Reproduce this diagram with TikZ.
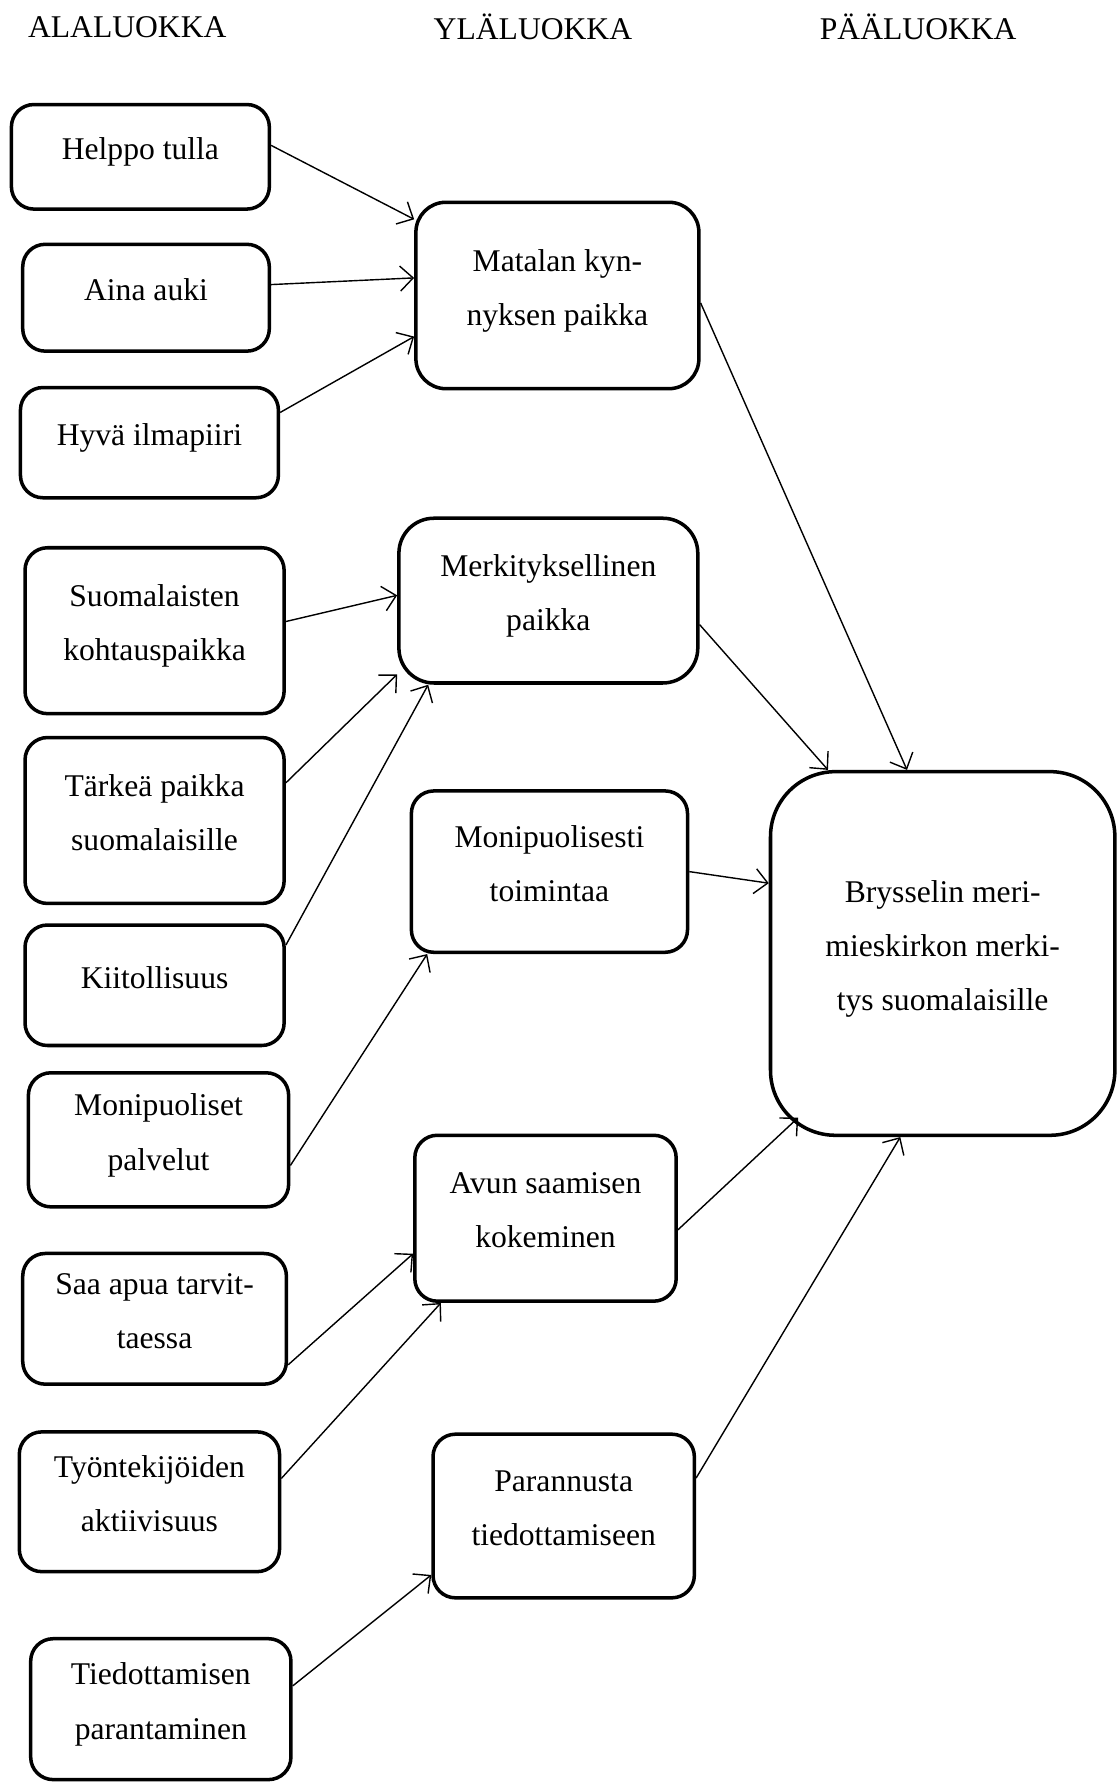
\documentclass[tikz,border=0pt]{standalone}
\usepackage{fontspec}
\setmainfont{Liberation Serif}
\usepackage{tikz}
\usetikzlibrary{arrows.meta}

\begin{document}
\begin{tikzpicture}[
    every node/.style={font=\fontsize{18}{31}\selectfont},
    box/.style={draw, line width=2pt, rounded corners=0.45cm, align=center, inner sep=0pt,
      execute at end node={\rule[-0.32cm]{0pt}{0.32cm}}},
    link/.style={-{Straight Barb[length=2.6mm,width=5mm]}, line width=0.8pt}
  ]
            \useasboundingbox (0,0) rectangle (22.4,-35.66);

            % otsikot
            \node (ala) at (2.547,-0.546) {ALALUOKKA};
            \node (yla) at (10.665,-0.546) {YLÄLUOKKA};
            \node (paa) at (18.375,-0.546) {PÄÄLUOKKA};

            % alaluokat
            \node[box, minimum width=5.162cm, minimum height=2.092cm] (helppo) at (2.809,-3.138) {Helppo tulla};
            \node[box, minimum width=4.935cm, minimum height=2.138cm] (aina) at (2.922,-5.958) {Aina auki};
            \node[box, minimum width=5.162cm, minimum height=2.206cm] (hyva) at (2.990,-8.858) {Hyvä ilmapiiri};
            \node[box, minimum width=5.185cm, minimum height=3.320cm] (suomal) at (3.093,-12.621) {Suomalaisten\\kohtauspaikka};
            \node[box, minimum width=5.185cm, minimum height=3.320cm] (tarkea) at (3.093,-16.419) {Tärkeä paikka\\suomalaisille};
            \node[box, minimum width=5.185cm, minimum height=2.411cm] (kiitol) at (3.093,-19.716) {Kiitollisuus};
            \node[box, minimum width=5.208cm, minimum height=2.683cm] (palvel) at (3.172,-22.809) {Monipuoliset\\palvelut};
            \node[box, minimum width=5.276cm, minimum height=2.615cm] (saa) at (3.093,-26.391) {Saa apua tarvit-\\taessa};
            \node[box, minimum width=5.208cm, minimum height=2.797cm] (tyont) at (2.990,-30.052) {Työntekijöiden\\aktiivisuus};
            \node[box, minimum width=5.208cm, minimum height=2.820cm] (tiedot) at (3.218,-34.202) {Tiedottamisen\\parantaminen};

            % yläluokat
            \node[box, rounded corners=0.6cm, minimum width=5.663cm, minimum height=3.730cm] (matala) at (11.154,-5.913) {Matalan kyn-\\nyksen paikka};
            \node[box, rounded corners=0.7cm, minimum width=5.981cm, minimum height=3.297cm] (merkit) at (10.973,-12.019) {Merkityksellinen\\paikka};
            \node[box, minimum width=5.526cm, minimum height=3.229cm] (monitoim) at (10.995,-17.442) {Monipuolisesti\\toimintaa};
            \node[box, minimum width=5.230cm, minimum height=3.320cm] (avun) at (10.916,-24.378) {Avun saamisen\\kokeminen};
            \node[box, minimum width=5.230cm, minimum height=3.275cm] (parann) at (11.280,-30.337) {Parannusta\\tiedottamiseen};

            % pääluokka
            \node[box, rounded corners=1.3cm, minimum width=6.891cm, minimum height=7.277cm] (bryssel) at (18.864,-19.080) {Brysselin meri-\\mieskirkon merki-\\tys suomalaisille};

            \draw[link] (helppo.5) -- (matala.152);
            \draw[link] (aina.6) -- (matala.173);
            \draw[link] (hyva.13) -- (matala.196);
            \draw[link] (suomal.4) -- (merkit.178);
            \draw[link] (tarkea.16) -- (merkit.206);
            \draw[link] (kiitol.17) -- (merkit.215.5);
            \draw[link] (palvel.-11) -- (monitoim.214.7);
            \draw[link] (saa.-19) -- (avun.195.7);
            \draw[link] (tyont.10.6) -- (avun.219.3);
            \draw[link] (tiedot.10) -- (parann.204.7);

            \draw[link] (matala.-3.7) -- (bryssel.101.6);
            \draw[link] (merkit.-9.3) -- (bryssel.122.7);
            \draw[link] (monitoim.0) -- (bryssel.158.1);
            \draw[link] (avun.-5.5) -- ([shift={(0.59,0.39)}]bryssel.south west);
            \draw[link] (parann.16.5) -- (bryssel.257.8);
        \end{tikzpicture}
\end{document}
